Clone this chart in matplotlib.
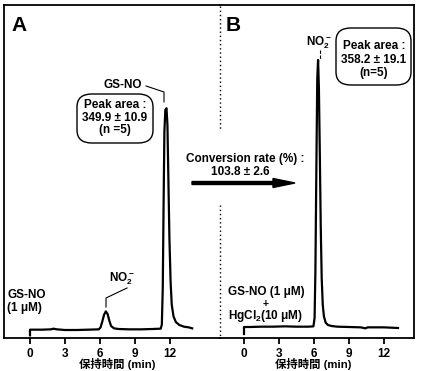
import matplotlib
matplotlib.use("Agg")
import matplotlib.pyplot as plt
from matplotlib.patches import FancyBboxPatch, FancyArrow
from matplotlib.lines import Line2D

plt.rcParams['font.family'] = ['Liberation Sans', 'Noto Sans CJK JP', 'DejaVu Sans']
plt.rcParams['font.weight'] = 'bold'
plt.rcParams['mathtext.fontset'] = 'custom'
plt.rcParams['mathtext.rm'] = 'Liberation Sans:bold'
plt.rcParams['mathtext.it'] = 'Liberation Sans:bold'
plt.rcParams['mathtext.bf'] = 'Liberation Sans:bold'
plt.rcParams['mathtext.default'] = 'rm'

# ---- data (retention time in min, detector signal in arbitrary units) ----
time_a = [0.0, 0.0, 0.5, 1.0, 1.8, 2.0, 2.3, 3.0, 4.0, 5.0, 5.9, 6.05, 6.2, 6.35, 6.5, 6.65,
          6.8, 6.95, 7.2, 7.6, 8.5, 9.5, 10.5, 11.2, 11.3, 11.38, 11.45, 11.52, 11.6,
          11.7, 11.78, 11.85, 11.95, 12.05, 12.15, 12.3, 12.5, 12.8, 13.2, 13.6, 13.9]
sig_a = [0.8, 2.5, 2.5, 2.5, 2.6, 2.8, 2.6, 2.4, 2.4, 2.5, 2.6, 3.2, 5.0, 7.0, 8.0, 7.2,
         5.2, 3.6, 2.9, 2.7, 2.6, 2.6, 2.7, 2.8, 4.0, 15.0, 40.0, 62.0, 68.5,
         69.0, 64.0, 50.0, 30.0, 17.0, 10.0, 6.5, 4.8, 3.9, 3.4, 3.2, 2.9]

time_b = [0.0, 0.0, 0.5, 1.5, 2.5, 3.5, 4.5, 5.5, 5.95, 6.05, 6.12, 6.2, 6.28, 6.35,
          6.42, 6.5, 6.58, 6.66, 6.75, 6.85, 7.0, 7.2, 7.5, 8.0, 9.0, 10.0, 10.4, 10.6,
          11.0, 12.0, 13.2]
sig_b = [1.2, 3.3, 3.3, 3.4, 3.4, 3.5, 3.4, 3.4, 3.5, 6.0, 20.0, 50.0, 78.0, 83.5,
         75.0, 55.0, 33.0, 18.0, 10.0, 6.5, 4.6, 3.9, 3.6, 3.4, 3.3, 3.2, 2.9, 3.2,
         3.2, 3.2, 3.0]

ticks = [0, 3, 6, 9, 12]
tick_labels = ['0', '3', '6', '9', '12']
xlabel = '保持時間 (min)'

W, H = 424, 371
fig = plt.figure(figsize=(W / 100, H / 100), dpi=100)

def fx(px):
    return px / W

def fy(py):
    return 1 - py / H

# axes geometry in pixels
left, mid, right, top, bottom = 4, 220, 414, 5, 338
ppm = 140 / 12.0  # pixels per minute
zeroA, zeroB = 30, 244
axA = fig.add_axes([fx(left), fy(bottom), (mid - left) / W, (bottom - top) / H])
axB = fig.add_axes([fx(mid), fy(bottom), (right - mid) / W, (bottom - top) / H])
axA.set_xlim((left - zeroA) / ppm, (mid - zeroA) / ppm)
axB.set_xlim((mid - zeroB) / ppm, (right - zeroB) / ppm)
for ax in (axA, axB):
    ax.set_ylim(0, 100)
    ax.set_facecolor('none')
    ax.set_xticks(ticks)
    ax.set_xticklabels(tick_labels, fontsize=8.5, fontweight='bold')
    ax.set_yticks([])
    ax.tick_params(axis='x', direction='out', length=4.3, width=1.3, pad=2.7)
    for s in ax.spines.values():
        s.set_linewidth(1.3)
axA.spines['right'].set_visible(False)
axB.spines['left'].set_visible(False)

# x-axis titles
for x0 in (79, 275):
    fig.text(fx(x0), fy(370.3), xlabel, fontsize=8.2, fontweight='bold', ha='left',
             va='bottom', family=['Liberation Sans', 'Noto Sans CJK JP'])

axA.plot(time_a, sig_a, color='black', lw=1.6, solid_joinstyle='round')
axB.plot(time_b, sig_b, color='black', lw=1.6, solid_joinstyle='round')

# dotted divider
for y0, y1 in [(6, 130), (205, 338)]:
    fig.add_artist(Line2D([fx(mid), fx(mid)], [fy(y0), fy(y1)], color='black',
                          lw=1.0, ls=(0, (1, 2))))

# panel letters
fig.text(fx(11), fy(31), 'A', fontsize=15, fontweight='bold', ha='left', va='baseline')
fig.text(fx(226), fy(31), 'B', fontsize=15, fontweight='bold', ha='left', va='baseline')

fs = 8.5
# Panel A annotations
fig.text(fx(123), fy(85), 'GS-NO', fontsize=fs, ha='center', va='center')
fig.add_artist(Line2D([fx(146), fx(164), fx(164)], [fy(86), fy(92), fy(102)],
                      color='black', lw=0.8))
boxA = FancyBboxPatch((fx(77), fy(143)), fx(153) - fx(77), fy(94) - fy(143),
                      boxstyle='round,pad=0,rounding_size=0.035', transform=fig.transFigure,
                      fc='white', ec='black', lw=1.0)
fig.add_artist(boxA)
fig.text(fx(115), fy(105), 'Peak area :', fontsize=fs, ha='center', va='center')
fig.text(fx(115), fy(118), '349.9 ± 10.9', fontsize=fs, ha='center', va='center')
fig.text(fx(115), fy(130), '(n =5)', fontsize=fs, ha='center', va='center')

fig.text(fx(122), fy(279), r'NO$_2^-$', fontsize=fs, ha='center', va='center')
fig.add_artist(Line2D([fx(127), fx(106), fx(106)], [fy(288), fy(298), fy(307)],
                      color='black', lw=0.8))
fig.text(fx(7), fy(295), 'GS-NO', fontsize=fs, ha='left', va='center')
fig.text(fx(7), fy(308), '(1 μM)', fontsize=fs, ha='left', va='center')

# Conversion arrow
fig.text(fx(245), fy(159), 'Conversion rate (%) :', fontsize=fs, ha='center', va='center')
fig.text(fx(240), fy(172), '103.8 ± 2.6', fontsize=fs, ha='center', va='center')
fig.add_artist(FancyArrow(fx(192), fy(183), fx(295) - fx(192), 0, width=3 / H,
                          head_width=9 / H, head_length=22 / W, length_includes_head=True,
                          transform=fig.transFigure, color='black'))

# Panel B annotations
fig.text(fx(319), fy(43), r'NO$_2^-$', fontsize=fs, ha='center', va='center')
fig.add_artist(Line2D([fx(320), fx(320)], [fy(50), fy(60)], color='black', lw=0.8,
                      ls=(0, (3, 1.5))))
boxB = FancyBboxPatch((fx(336), fy(85)), fx(411) - fx(336), fy(28) - fy(85),
                      boxstyle='round,pad=0,rounding_size=0.035', transform=fig.transFigure,
                      fc='white', ec='black', lw=1.0)
fig.add_artist(boxB)
fig.text(fx(374), fy(46), 'Peak area :', fontsize=fs, ha='center', va='center')
fig.text(fx(374), fy(60), '358.2 ± 19.1', fontsize=fs, ha='center', va='center')
fig.text(fx(374), fy(73), '(n=5)', fontsize=fs, ha='center', va='center')

fig.text(fx(266), fy(292), 'GS-NO (1 μM)', fontsize=fs, ha='center', va='center')
fig.text(fx(266), fy(303.5), '+', fontsize=7.5, ha='center', va='center')
fig.text(fx(266), fy(316), r'HgCl$_2$(10 μM)', fontsize=fs, ha='center', va='center')

fig.savefig('out.png', dpi=100)
